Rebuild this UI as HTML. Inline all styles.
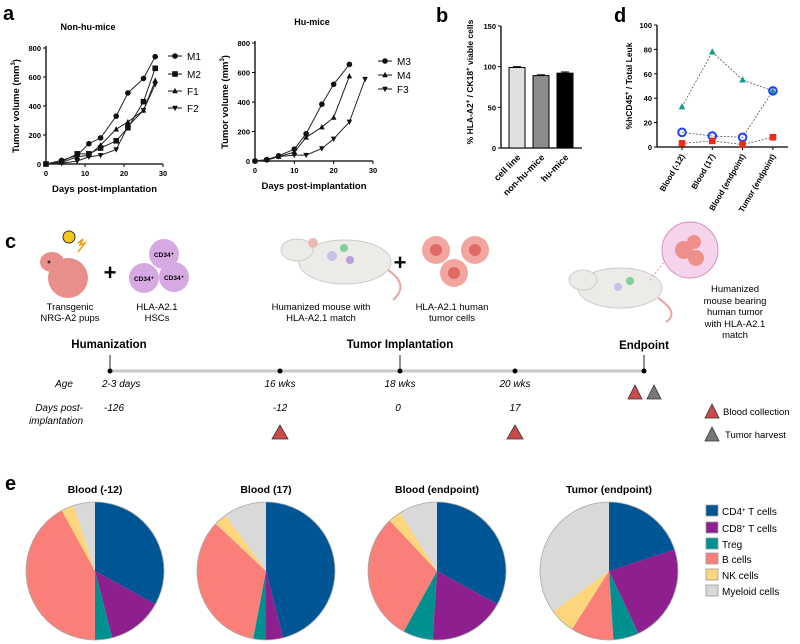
<!DOCTYPE html>
<html><head><meta charset="utf-8"><style>
body{margin:0;background:#fff;}
svg{display:block;font-family:"Liberation Sans",sans-serif;}
</style></head><body>
<svg id="fig" width="800" height="644" viewBox="0 0 800 644" xmlns="http://www.w3.org/2000/svg">
<g id="root"></g>
</svg>
<script>
// ---- Panel a data ----
const daysNonHu = [0,4,8,11,14,18,21,25,28];
const seriesM1 = [0,25,60,140,180,330,490,590,740];
const seriesM2 = [0,15,70,70,110,160,250,430,660];
const seriesF1 = [0,10,50,60,130,240,290,370,575];
const seriesF2 = [0,5,20,50,60,100,260,370,550];
const daysHuA = [0,3,6,10,13,17,20,24];
const seriesM3 = [0,10,35,80,185,385,520,655];
const seriesM4 = [0,8,30,60,160,230,295,575];
const daysHuF3 = [0,3,6,10,13,17,20,24,28];
const seriesF3 = [0,5,30,40,40,85,150,265,555];
const aYTicks = [0,200,400,600,800];
const aXTicks = [0,10,20,30];
// ---- Panel b data ----
const bCategories = ["cell line","non-hu-mice","hu-mice"];
const bValues = [99,89,92];
const bErrors = [1,1,1.5];
const bYTicks = [0,50,100,150];
// ---- Panel d data ----
const dCategories = ["Blood (-12)","Blood (17)","Blood (endpoint)","Tumor (endpoint)"];
const dTriangle = [33,78,55,46];
const dCircle = [12,9,8,46];
const dSquare = [3,5,2,8];
const dYTicks = [0,20,40,60,80,100];
// ---- Panel e data ----
const eTitles = ["Blood (-12)","Blood (17)","Blood (endpoint)","Tumor (endpoint)"];
const eCellTypes = ["CD4","CD8","Treg","B cells","NK cells","Myeloid cells"];
const pieBlood12 = [33,13,4,42,3,5];
const pieBlood17 = [46,4,3,34,3,10];
const pieBloodEnd = [33,18,7,30,3,9];
const pieTumorEnd = [20,23,6,10,6,35];

const NS="http://www.w3.org/2000/svg";
const root=document.getElementById('root');
function mk(tag,attrs,parent,txt){const e=document.createElementNS(NS,tag);for(const k in attrs)e.setAttribute(k,attrs[k]);if(txt!==undefined)e.textContent=txt;(parent||root).appendChild(e);return e;}
function lin(d0,d1,r0,r1){return v=>r0+(v-d0)/(d1-d0)*(r1-r0);}

[["a",3,20],["b",436,22],["d",614,22],["c",5,248],["e",5,490]].forEach(p=>{
 const t=mk('text',{x:p[1],y:p[2],'font-size':20,'font-weight':'bold'},root,p[0]);
 
 
});

function marker(g,type,x,y,s,fill,stroke){
 let e;
 if(type==='circle')e=mk('circle',{cx:x,cy:y,r:s,fill:fill,stroke:stroke||'none','stroke-width':2},g);
 else if(type==='square')e=mk('rect',{x:x-s,y:y-s,width:2*s,height:2*s,fill:fill},g);
 else if(type==='tri')e=mk('polygon',{points:`${x},${y-s*1.1} ${x-s},${y+s*0.8} ${x+s},${y+s*0.8}`,fill:fill},g);
 else e=mk('polygon',{points:`${x},${y+s*1.1} ${x-s},${y-s*0.8} ${x+s},${y-s*0.8}`,fill:fill},g);
 
 
}

function linePanel(name,x0,x1,y0,y1,title,titleX,series,legY,legX){
 const g=mk('g',{});
 
 
 const sx=lin(0,30,x0,x1), sy=lin(0,800,y0,y1);
 mk('line',{x1:x0,y1:y1-2,x2:x0,y2:y0,stroke:'#000','stroke-width':1.3},g);
 mk('line',{x1:x0,y1:y0,x2:x1,y2:y0,stroke:'#000','stroke-width':1.3},g);
 aYTicks.forEach(v=>{mk('line',{x1:x0-3,y1:sy(v),x2:x0,y2:sy(v),stroke:'#000'},g);
  mk('text',{x:x0-5,y:sy(v)+3,'font-size':7.5,'font-weight':'bold','text-anchor':'end'},g,v);});
 aXTicks.forEach(v=>{mk('line',{x1:sx(v),y1:y0,x2:sx(v),y2:y0+3,stroke:'#000'},g);
  mk('text',{x:sx(v),y:y0+12,'font-size':7.5,'font-weight':'bold','text-anchor':'middle'},g,v);});
 const tt=mk('text',{x:titleX,y:y1-18,'font-size':9,'font-weight':'bold','text-anchor':'middle'},g,title);
 
 const xl=mk('text',{x:(x0+x1)/2,y:y0+28,'font-size':9.5,'font-weight':'bold','text-anchor':'middle'},g,'Days post-implantation');
 
 const yl=mk('text',{transform:`translate(${x0-27},${(y0+y1)/2}) rotate(-90)`,'font-size':9.5,'font-weight':'bold','text-anchor':'middle'},g);
 yl.innerHTML='Tumor volume (mm<tspan dy="-4" font-size="6">3</tspan><tspan dy="4">)</tspan>';
 
 series.forEach((s,i)=>{
  const pts=s.x.map((d,j)=>sx(d)+','+sy(s.y[j])).join(' ');
  const pl=mk('polyline',{points:pts,fill:'none',stroke:'#222','stroke-width':1},g);
  
  s.x.forEach((d,j)=>marker(g,s.m,sx(d),sy(s.y[j]),2.8,'#111'));
  const ly=legY[i];
  mk('line',{x1:legX,y1:ly,x2:legX+14,y2:ly,stroke:'#111'},g);
  marker(g,s.m,legX+7,ly,2.8,'#111');
  const lt=mk('text',{x:legX+19,y:ly+4,'font-size':10},g,s.n);
  
 });
}
linePanel('chart-non-hu-mice',46,163,164,48,'Non-hu-mice',88,[
 {n:'M1',x:daysNonHu,y:seriesM1,m:'circle'},{n:'M2',x:daysNonHu,y:seriesM2,m:'square'},
 {n:'F1',x:daysNonHu,y:seriesF1,m:'tri'},{n:'F2',x:daysNonHu,y:seriesF2,m:'dtri'}],[56,74,91,108],168);
linePanel('chart-hu-mice',255,373,161,43,'Hu-mice',312,[
 {n:'M3',x:daysHuA,y:seriesM3,m:'circle'},{n:'M4',x:daysHuA,y:seriesM4,m:'tri'},
 {n:'F3',x:daysHuF3,y:seriesF3,m:'dtri'}],[61,75,89],378);

(function(){
 const g=mk('g',{});
 const x0=501,y0=148,y1=26,sy=lin(0,150,y0,y1);
 mk('line',{x1:x0,y1:y1,x2:x0,y2:y0,stroke:'#000','stroke-width':1.3},g);
 mk('line',{x1:x0,y1:y0,x2:582,y2:y0,stroke:'#000','stroke-width':1.3},g);
 bYTicks.forEach(v=>{mk('line',{x1:x0-3,y1:sy(v),x2:x0,y2:sy(v),stroke:'#000'},g);
  mk('text',{x:x0-5,y:sy(v)+3,'font-size':7.5,'font-weight':'bold','text-anchor':'end'},g,v);});
 const fills=['#e0e0e0','#8c8c8c','#000'];
 bCategories.forEach((c,i)=>{
  const cx=517+i*24;
  const r=mk('rect',{x:cx-8,y:sy(bValues[i]),width:16,height:y0-sy(bValues[i]),fill:fills[i],stroke:'#000','stroke-width':1},g);
  
  mk('line',{x1:cx,y1:sy(bValues[i]+bErrors[i]),x2:cx,y2:sy(bValues[i]),stroke:'#000'},g);
  mk('line',{x1:cx-4,y1:sy(bValues[i]+bErrors[i]),x2:cx+4,y2:sy(bValues[i]+bErrors[i]),stroke:'#000'},g);
  mk('text',{transform:`translate(${cx+4},${y0+10}) rotate(-45)`,'font-size':9,'font-weight':'bold','text-anchor':'end'},g,c);
 });
 const yl=mk('text',{transform:`translate(${x0-28},${(y0+y1)/2-5}) rotate(-90)`,'font-size':8.5,'font-weight':'bold','text-anchor':'middle'},g);
 yl.innerHTML='% HLA-A2<tspan dy="-3" font-size="6">+</tspan><tspan dy="3"> / CK18</tspan><tspan dy="-3" font-size="6">+</tspan><tspan dy="3"> viable cells</tspan>';
 
})();

(function(){
 const g=mk('g',{});
 const x0=657,y0=147,y1=25,sy=lin(0,100,y0,y1);
 const sx=i=>682+i*30.3;
 mk('line',{x1:x0,y1:y1,x2:x0,y2:y0,stroke:'#000','stroke-width':1.3},g);
 mk('line',{x1:x0,y1:y0,x2:788,y2:y0,stroke:'#000','stroke-width':1.3},g);
 dYTicks.forEach(v=>{mk('line',{x1:x0-3,y1:sy(v),x2:x0,y2:sy(v),stroke:'#000'},g);
  mk('text',{x:x0-5,y:sy(v)+3,'font-size':7.5,'font-weight':'bold','text-anchor':'end'},g,v);});
 dCategories.forEach((c,i)=>{mk('line',{x1:sx(i),y1:y0,x2:sx(i),y2:y0+3,stroke:'#000'},g);
  mk('text',{transform:`translate(${sx(i)+3},${y0+9}) rotate(-60)`,'font-size':8,'font-weight':'bold','text-anchor':'end'},g,c);});
 const sets=[[dTriangle,'tri','#129a8f',null],[dCircle,'circle','none','#1f3fff'],[dSquare,'square','#f02a1a',null]];
 sets.forEach(s=>{
  const pl=mk('polyline',{points:s[0].map((v,i)=>sx(i)+','+sy(v)).join(' '),fill:'none',stroke:'#555','stroke-width':0.8,'stroke-dasharray':'2,1.5'},g);
  
  s[0].forEach((v,i)=>{ if(s[1]==='circle')marker(g,'circle',sx(i),sy(v),3.8,'none',s[3]); else marker(g,s[1],sx(i),sy(v),3.3,s[2]);});
 });
 const yl=mk('text',{transform:`translate(${x0-25},${(y0+y1)/2}) rotate(-90)`,'font-size':8.5,'font-weight':'bold','text-anchor':'middle'},g);
 yl.innerHTML='%hCD45<tspan dy="-3" font-size="6">+</tspan><tspan dy="3"> / Total Leuk</tspan>';
 
})();

(function(){
 const colors=['#005595','#8e1f8e','#009090','#fa7f78','#fdd57c','#d9d9d9'];
 const pies=[pieBlood12,pieBlood17,pieBloodEnd,pieTumorEnd];
 const cxs=[95,266,437,609];
 pies.forEach((vals,pi)=>{
  const g=mk('g',{});
  const cx=cxs[pi],cy=571,rx=69,ry=69;
  const tot=vals.reduce((a,b)=>a+b,0);let acc=0;
  vals.forEach((v,i)=>{
   const a0=acc/tot*2*Math.PI;acc+=v;const a1=acc/tot*2*Math.PI;
   const p=(a)=>[cx+rx*Math.sin(a),cy-ry*Math.cos(a)];
   const [xa,ya]=p(a0),[xb,yb]=p(a1);
   const large=(a1-a0)>Math.PI?1:0;
   const s=mk('path',{d:`M${cx},${cy} L${xa},${ya} A${rx},${ry} 0 ${large} 1 ${xb},${yb} Z`,fill:colors[i]},g);
   
   
  });
  mk('circle',{cx:cx,cy:cy,r:rx,fill:'none',stroke:'#aaa','stroke-width':0.8},g);
  const t=mk('text',{x:cx,y:493,'font-size':10.5,'font-weight':'bold','text-anchor':'middle'},g,eTitles[pi]);
  
 });
 const lab=['CD4<tspan dy="-3" font-size="6">+</tspan><tspan dy="3"> T cells</tspan>','CD8<tspan dy="-3" font-size="6">+</tspan><tspan dy="3"> T cells</tspan>','Treg','B cells','NK cells','Myeloid cells'];
 const ly=[511,528,544,559,575,591];
 eCellTypes.forEach((c,i)=>{
  const r=mk('rect',{x:706,y:ly[i]-6,width:12,height:11,fill:colors[i],stroke:'#999','stroke-width':0.8});
  
  const t=mk('text',{x:722,y:ly[i]+4,'font-size':10});t.innerHTML=lab[i];
  
 });
})();
</script>
<svg width="800" height="644" style="position:absolute;left:0;top:0" xmlns="http://www.w3.org/2000/svg" font-family="Liberation Sans, sans-serif">
 <g>
  <ellipse cx="68" cy="278" rx="20" ry="20" fill="#e98f8b"/>
  <ellipse cx="52" cy="262" rx="12" ry="10" fill="#e98f8b"/>
  <circle cx="49" cy="262" r="1.5" fill="#333"/>
  <circle cx="69" cy="237" r="6" fill="#f2c81a" stroke="#333" stroke-width="1"/>
  <path d="M78 243 l5 -4 -3 6 5 -2 -7 9" stroke="#f39c12" fill="none" stroke-width="1.5"/>
 </g>
 <text x="110" y="280" font-size="22" font-weight="bold" text-anchor="middle">+</text>
 <g>
  <circle cx="164" cy="254" r="15" fill="#d7a9e3"/>
  <circle cx="144" cy="278" r="15" fill="#d7a9e3"/>
  <circle cx="174" cy="277" r="15" fill="#d7a9e3"/>
  <text x="164" y="257" font-size="6.5" font-weight="bold" text-anchor="middle">CD34⁺</text>
  <text x="144" y="281" font-size="6.5" font-weight="bold" text-anchor="middle">CD34⁺</text>
  <text x="174" y="280" font-size="6.5" font-weight="bold" text-anchor="middle">CD34⁺</text>
 </g>
 <g>
  <ellipse cx="345" cy="262" rx="46" ry="22" fill="#ecebe8" stroke="#ccc"/>
  <ellipse cx="297" cy="250" rx="16" ry="11" fill="#ecebe8" stroke="#ccc"/>
  <circle cx="313" cy="243" r="5" fill="#e9b9b5"/>
  <circle cx="344" cy="248" r="4" fill="#7fd09a"/>
  <circle cx="332" cy="256" r="5" fill="#c7c1e8"/>
  <circle cx="350" cy="260" r="4" fill="#b99ddc"/>
  <path d="M388 270 q22 15 5 30" stroke="#e8a4a0" stroke-width="2" fill="none"/>
 </g>
 <text x="400" y="270" font-size="22" font-weight="bold" text-anchor="middle">+</text>
 <g>
  <circle cx="436" cy="250" r="14" fill="#f3a5a0"/><circle cx="436" cy="250" r="6" fill="#e06a66"/>
  <circle cx="475" cy="250" r="14" fill="#f3a5a0"/><circle cx="475" cy="250" r="6" fill="#e06a66"/>
  <circle cx="454" cy="273" r="14" fill="#f3a5a0"/><circle cx="454" cy="273" r="6" fill="#e06a66"/>
 </g>
 <g>
  <ellipse cx="620" cy="288" rx="42" ry="20" fill="#ecebe8" stroke="#ccc"/>
  <ellipse cx="583" cy="280" rx="14" ry="10" fill="#ecebe8" stroke="#ccc"/>
  <circle cx="630" cy="281" r="4" fill="#7fd09a"/>
  <circle cx="618" cy="287" r="4" fill="#c7c1e8"/>
  <path d="M658 298 q22 15 8 24" stroke="#e8a4a0" stroke-width="2" fill="none"/>
  <circle cx="690" cy="250" r="28" fill="#f5d3ea" stroke="#d58fc0"/>
  <circle cx="684" cy="250" r="9" fill="#ef8f8c"/><circle cx="696" cy="258" r="8" fill="#ef8f8c"/><circle cx="694" cy="242" r="7" fill="#ef8f8c"/>
  <line x1="650" y1="280" x2="664" y2="262" stroke="#d58fc0" stroke-dasharray="2,2"/>
 </g>
 <g font-size="9.5" text-anchor="middle">
  <text x="70" y="310">Transgenic</text><text x="70" y="321">NRG-A2 pups</text>
  <text x="157" y="310">HLA-A2.1</text><text x="157" y="321">HSCs</text>
  <text x="321" y="310">Humanized mouse with</text><text x="321" y="321">HLA-A2.1 match</text>
  <text x="452" y="310">HLA-A2.1  human</text><text x="452" y="321">tumor cells</text>
  <text x="735" y="292">Humanized</text><text x="735" y="304">mouse bearing</text><text x="735" y="315">human tumor</text><text x="735" y="327">with HLA-A2.1</text><text x="735" y="338">match</text>
 </g>
 <g font-size="11.5" font-weight="bold" text-anchor="middle">
  <text x="109" y="348">Humanization</text><text x="400" y="348">Tumor Implantation</text><text x="644" y="349">Endpoint</text>
 </g>
 <g>
  <line x1="110" y1="371" x2="644" y2="371" stroke="#c8c8c8" stroke-width="3"/>
  <line x1="110" y1="355" x2="110" y2="371" stroke="#222"/><line x1="400" y1="355" x2="400" y2="371" stroke="#222"/><line x1="644" y1="355" x2="644" y2="371" stroke="#222"/>
  <circle cx="110" cy="371" r="2.5"/><circle cx="280" cy="371" r="2.5"/><circle cx="400" cy="371" r="2.5"/><circle cx="515" cy="371" r="2.5"/><circle cx="644" cy="371" r="2.5"/>
 </g>
 <g font-size="10" font-style="italic">
  <text x="64" y="387" text-anchor="middle">Age</text>
  <text x="102" y="387">2-3 days</text>
  <text x="280" y="387" text-anchor="middle">16 wks</text>
  <text x="400" y="387" text-anchor="middle">18 wks</text>
  <text x="515" y="387" text-anchor="middle">20 wks</text>
  <text x="83" y="411" text-anchor="end">Days post-</text>
  <text x="83" y="424" text-anchor="end">implantation</text>
  <text x="104" y="411">-126</text>
  <text x="280" y="411" text-anchor="middle">-12</text>
  <text x="398" y="411" text-anchor="middle">0</text>
  <text x="515" y="411" text-anchor="middle">17</text>
 </g>
 <g stroke="#333" stroke-width="0.8">
  <polygon points="280,425 272,439 288,439" fill="#c94a4a"/>
  <polygon points="515,425 507,439 523,439" fill="#c94a4a"/>
  <polygon points="635,385 628,399 642,399" fill="#c94a4a"/>
  <polygon points="654,385 647,399 661,399" fill="#777"/>
  <polygon points="712,404 705,418 719,418" fill="#c94a4a"/>
  <polygon points="712,427 705,441 719,441" fill="#777"/>
 </g>
 <text x="723" y="415" font-size="9.5">Blood collection</text>
 <text x="725" y="438" font-size="9.5">Tumor harvest</text>
</svg>
</body></html>
